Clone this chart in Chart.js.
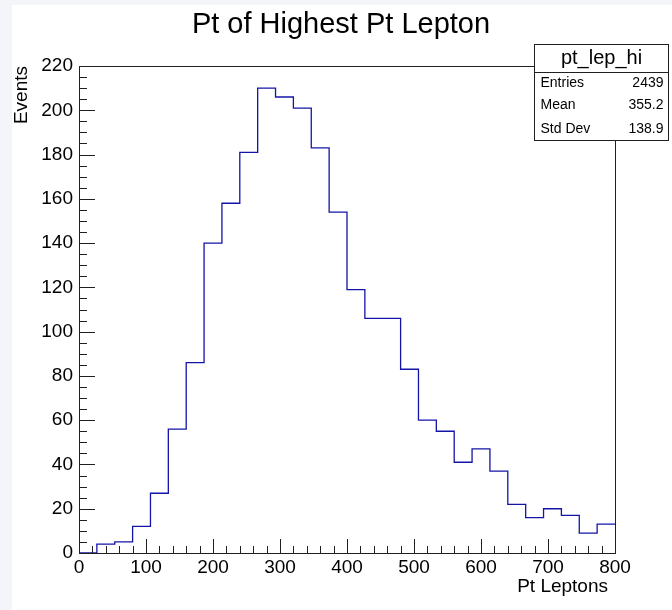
<!DOCTYPE html>
<html>
<head>
<meta charset="utf-8">
<script src="https://cdn.jsdelivr.net/npm/chart.js@4/dist/chart.umd.min.js"></script>
<style>
  html, body { margin: 0; padding: 0; background: #f3f5f8; }
  #pad { position: absolute; left: 12px; top: 5px; width: 660px; height: 605px; background: #ffffff; }
  #c { position: absolute; left: 0; top: 0; }
</style>
</head>
<body>
<div id="pad"></div>
<canvas id="c" width="672" height="610"></canvas>
<script>
// Histogram pt_lep_hi: 30 bins from 0 to 800
const xMin = 0;
const xMax = 800;
const binCounts = [0, 4, 5, 12, 27, 56, 86, 140, 158, 181,
                   210, 206, 201, 183, 154, 119, 106, 106, 83, 60,
                   55, 41, 47, 37, 22, 16, 20, 17, 9, 13];

// Axis ticks
const xMajorStep = 100, xMinorStep = 20;
const yMin = 0, yMax = 220;
const yMajorStep = 20, yMinorStep = 5;

// Texts
const titleText = 'Pt of Highest Pt Lepton';
const xTitle = 'Pt Leptons';
const yTitle = 'Events';
const statsName = 'pt_lep_hi';
const statsLabels = ['Entries', 'Mean', 'Std Dev'];
const statsValues = ['2439', '355.2', '138.9'];

const FONT = '"Liberation Sans", Arial, Helvetica, sans-serif';

// outline points at the low edge of every bin, closed at the upper limit
const binWidth = (xMax - xMin) / binCounts.length;
const outline = binCounts.map((v, i) => ({ x: xMin + i * binWidth, y: v }));
outline.push({ x: xMax, y: binCounts[binCounts.length - 1] });

const framePlugin = {
  id: 'rootFrame',
  afterDraw(chart) {
    const ctx = chart.ctx;
    const a = chart.chartArea;
    const xs = chart.scales.x, ys = chart.scales.y;
    ctx.save();
    // frame
    ctx.strokeStyle = '#202020';
    ctx.lineWidth = 1;
    ctx.strokeRect(Math.round(a.left) + 0.5, Math.round(a.top) + 0.5,
                   Math.round(a.right - a.left), Math.round(a.bottom - a.top));
    // x ticks, pointing up from the bottom edge
    ctx.beginPath();
    for (let v = xMin; v <= xMax + 1e-6; v += xMinorStep) {
      const px = Math.round(xs.getPixelForValue(v)) + 0.5;
      const major = Math.abs(v / xMajorStep - Math.round(v / xMajorStep)) < 1e-6;
      const len = major ? 14 : 7;
      ctx.moveTo(px, a.bottom);
      ctx.lineTo(px, a.bottom - len);
    }
    // y ticks, pointing right from the left edge
    for (let v = yMin; v <= yMax + 1e-6; v += yMinorStep) {
      const py = Math.round(ys.getPixelForValue(v)) + 0.5;
      const major = Math.abs(v / yMajorStep - Math.round(v / yMajorStep)) < 1e-6;
      const len = major ? 16 : 8;
      ctx.moveTo(a.left, py);
      ctx.lineTo(a.left + len, py);
    }
    ctx.stroke();

    // title
    ctx.fillStyle = '#000';
    ctx.font = '29px ' + FONT;
    ctx.textAlign = 'center';
    ctx.textBaseline = 'alphabetic';
    ctx.fillText(titleText, 341, 33);

    // axis titles
    ctx.font = '19px ' + FONT;
    ctx.textAlign = 'right';
    ctx.fillText(xTitle, 608, 592);
    ctx.save();
    ctx.translate(27, 66);
    ctx.rotate(-Math.PI / 2);
    ctx.textAlign = 'right';
    ctx.fillText(yTitle, 0, 0);
    ctx.restore();

    // statistics box
    const bx = 534.5, by = 44.5, bw = 134, bh = 96, hh = 28;
    ctx.fillStyle = '#fff';
    ctx.fillRect(bx, by, bw, bh);
    ctx.strokeStyle = '#202020';
    ctx.strokeRect(bx, by, bw, bh);
    ctx.beginPath();
    ctx.moveTo(bx, by + hh);
    ctx.lineTo(bx + bw, by + hh);
    ctx.stroke();
    ctx.fillStyle = '#000';
    ctx.font = '20px ' + FONT;
    ctx.textAlign = 'center';
    ctx.textBaseline = 'middle';
    ctx.fillText(statsName, bx + bw / 2, by + 14);
    ctx.font = '14px ' + FONT;
    const rowY = [83, 105.5, 129];
    statsLabels.forEach((lab, i) => {
      ctx.textAlign = 'left';
      ctx.fillText(lab, bx + 6, rowY[i]);
      ctx.textAlign = 'right';
      ctx.fillText(statsValues[i], bx + bw - 5, rowY[i]);
    });
    ctx.restore();
  }
};

new Chart(document.getElementById('c'), {
  type: 'line',
  data: {
    datasets: [{
      data: outline,
      stepped: 'before',
      borderColor: '#1414a8',
      borderWidth: 1.3,
      pointRadius: 0,
      fill: false
    }]
  },
  options: {
    responsive: false,
    animation: false,
    devicePixelRatio: 1,
    layout: { padding: { top: 66, right: 57, left: 0, bottom: 0 } },
    plugins: { legend: { display: false }, tooltip: { enabled: false }, title: { display: false } },
    scales: {
      x: {
        type: 'linear',
        min: xMin, max: xMax,
        border: { display: false },
        grid: { display: false, drawTicks: false },
        ticks: {
          stepSize: xMajorStep, color: '#000', padding: 3,
          maxRotation: 0, autoSkip: false,
          font: { family: FONT, size: 19 }
        },
        afterFit(scale) { scale.height = 57; }
      },
      y: {
        type: 'linear',
        min: yMin, max: yMax,
        border: { display: false },
        grid: { display: false, drawTicks: false },
        ticks: {
          stepSize: yMajorStep, color: '#000', padding: 6,
          font: { family: FONT, size: 19 }
        },
        afterFit(scale) { scale.width = 79; }
      }
    }
  },
  plugins: [framePlugin]
});
</script>
</body>
</html>
